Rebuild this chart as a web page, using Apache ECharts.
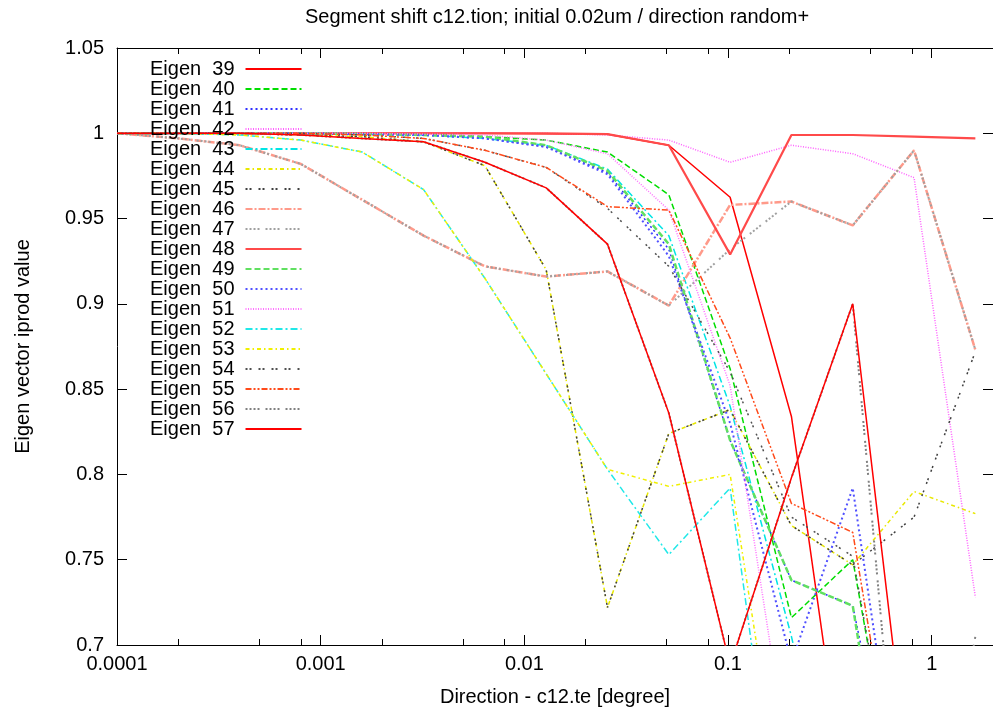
<!DOCTYPE html>
<html>
<head>
<meta charset="utf-8">
<title>Segment shift</title>
<script src="https://cdn.jsdelivr.net/npm/echarts@6/dist/echarts.min.js"></script>
<style>
  html, body { margin: 0; padding: 0; background: #fff; }
  #chart { width: 993px; height: 712px; }
</style>
</head>
<body>
<div id="chart"></div>
<script>
// x = direction [degree], doubled each step
const xValues = [0.0001, 0.0002, 0.0004, 0.0008, 0.0016, 0.0032, 0.0064, 0.0128, 0.0256, 0.0512, 0.1024, 0.2048, 0.4096, 0.8192, 1.6384];

const eigen39 = [1, 1, 1, 1, 1, 1, 1, 0.9998, 0.9995, 0.993, 0.9625, 0.834, 0.58, 0.5, 0.5];
const eigen40 = [1, 1, 1, 1, 1, 0.9995, 0.998, 0.996, 0.989, 0.964, 0.862, 0.716, 0.75, 0.55, 0.5];
const eigen41 = [1, 1, 1, 1, 0.9995, 0.999, 0.997, 0.992, 0.977, 0.932, 0.82, 0.738, 0.723, 0.55, 0.5];
const eigen42 = [1, 1, 1, 1, 1, 1, 1, 1, 0.999, 0.996, 0.983, 0.993, 0.988, 0.974, 0.728];
const eigen43 = [1, 1, 1, 1, 0.9995, 0.999, 0.997, 0.993, 0.979, 0.94, 0.84, 0.705, 0.55, 0.5, 0.5];
const eigen44 = [1, 1, 1, 0.999, 0.998, 0.995, 0.981, 0.92, 0.722, 0.824, 0.838, 0.77, 0.747, 0.79, 0.777];
const eigen45 = [1, 1, 1, 0.999, 0.998, 0.995, 0.981, 0.92, 0.722, 0.824, 0.838, 0.77, 0.747, 0.775, 0.872];
const eigen46 = [1, 0.997, 0.993, 0.982, 0.961, 0.94, 0.922, 0.916, 0.919, 0.899, 0.958, 0.96, 0.946, 0.99, 0.873];
const eigen47 = [1, 0.997, 0.993, 0.982, 0.961, 0.94, 0.922, 0.916, 0.919, 0.899, 0.932, 0.96, 0.946, 0.99, 0.873];
const eigen48 = [1, 1, 1, 1, 1, 1, 1, 1, 0.9995, 0.993, 0.929, 0.999, 0.999, 0.998, 0.997];
const eigen49 = [1, 1, 1, 1, 0.9995, 0.999, 0.998, 0.993, 0.978, 0.935, 0.82, 0.738, 0.723, 0.5, 0.5];
const eigen50 = [1, 1, 1, 1, 0.9995, 0.999, 0.997, 0.992, 0.976, 0.928, 0.83, 0.69, 0.792, 0.55, 0.5];
const eigen51 = [1, 1, 1, 1, 1, 0.9995, 0.999, 0.996, 0.988, 0.955, 0.852, 0.62, 0.5, 0.5, 0.5];
const eigen52 = [1, 1, 0.999, 0.996, 0.989, 0.967, 0.915, 0.859, 0.803, 0.753, 0.792, 0.53, 0.5, 0.5, 0.5];
const eigen53 = [1, 1, 0.999, 0.996, 0.989, 0.967, 0.915, 0.859, 0.803, 0.793, 0.80, 0.57, 0.5, 0.5, 0.5];
const eigen54 = [1, 1, 1, 1, 0.999, 0.997, 0.99, 0.98, 0.956, 0.922, 0.86, 0.775, 0.752, 0.55, 0.5];
const eigen55 = [1, 1, 1, 1, 0.999, 0.997, 0.99, 0.98, 0.957, 0.955, 0.88, 0.783, 0.766, 0.55, 0.5];
const eigen56 = [1, 1, 1, 0.999, 0.997, 0.995, 0.983, 0.968, 0.935, 0.836, 0.688, 0.798, 0.9, 0.5, 0.705];
const eigen57 = [1, 1, 1, 0.999, 0.997, 0.995, 0.983, 0.968, 0.935, 0.836, 0.688, 0.798, 0.9, 0.595, 0.55];

const seriesNames = ['Eigen  39', 'Eigen  40', 'Eigen  41', 'Eigen  42', 'Eigen  43', 'Eigen  44', 'Eigen  45',
    'Eigen  46', 'Eigen  47', 'Eigen  48', 'Eigen  49', 'Eigen  50', 'Eigen  51', 'Eigen  52', 'Eigen  53',
    'Eigen  54', 'Eigen  55', 'Eigen  56', 'Eigen  57'];
const seriesValues = [eigen39, eigen40, eigen41, eigen42, eigen43, eigen44, eigen45, eigen46, eigen47, eigen48,
    eigen49, eigen50, eigen51, eigen52, eigen53, eigen54, eigen55, eigen56, eigen57];

const xTickValues = [0.0001, 0.001, 0.01, 0.1, 1];
const xTickLabels = ['0.0001', '0.001', '0.01', '0.1', '1'];
const xMinorTicks = [0.0002, 0.0005, 0.0008, 0.002, 0.005, 0.008, 0.02, 0.05, 0.08, 0.2, 0.5, 0.8];
const yTickLabels = ['0.7', '0.75', '0.8', '0.85', '0.9', '0.95', '1', '1.05'];

// gnuplot-ish line types
const lineStyles = [
    { color: '#ff0000', width: 1.5, type: 'solid' },
    { color: '#00dd00', width: 1.5, type: [6, 3] },
    { color: '#3030ff', width: 1.5, type: [2, 3] },
    { color: '#ff60ff', width: 1.5, type: [1, 1.5] },
    { color: '#00e5e5', width: 1.5, type: [7, 3, 2, 3] },
    { color: '#e8e800', width: 1.5, type: [4, 3, 1.5, 3] },
    { color: '#404040', width: 1.5, type: [2, 2, 2, 7] },
    { color: '#ff9a8a', width: 2.5, type: [7, 2, 2, 2] },
    { color: '#a0a0a0', width: 2, type: [2, 2, 2, 2, 2, 2, 2, 6] },
    { color: '#ff4a4a', width: 2.2, type: 'solid' },
    { color: '#60e060', width: 2.5, type: [6, 3] },
    { color: '#5050ff', width: 2, type: [2, 3] },
    { color: '#ff70ff', width: 1.5, type: [1, 1.5] },
    { color: '#20e8e8', width: 1.5, type: [7, 3, 2, 3] },
    { color: '#f0f000', width: 1.5, type: [4, 3, 1.5, 3] },
    { color: '#505050', width: 1.5, type: [2, 2, 2, 7] },
    { color: '#ff4a1a', width: 1.5, type: [6, 2, 2, 2, 2, 2] },
    { color: '#808080', width: 2, type: [2, 2, 2, 2, 2, 2, 2, 6] },
    { color: '#ff0000', width: 1.5, type: 'solid' }
];

const font = 'Liberation Sans, Arial, sans-serif';

const series = seriesNames.map((name, i) => ({
    name: name,
    type: 'line',
    symbol: 'none',
    clip: true,
    color: lineStyles[i].color,
    lineStyle: lineStyles[i],
    data: xValues.map((x, k) => [x, seriesValues[i][k]])
}));

function xLabel(v) {
    const i = xTickValues.findIndex(t => Math.abs(Math.log10(t) - Math.log10(v)) < 1e-6);
    return i < 0 ? '' : xTickLabels[i];
}

function xAxisDef(pos, major) {
    return {
        type: 'log', logBase: 10, position: pos, min: 0.0001, max: 2,
        axisLine: { show: major, onZero: false, lineStyle: { color: '#000', width: 1 } },
        axisTick: { show: true, inside: true, length: major ? 10 : 6,
            customValues: major ? xTickValues : xMinorTicks, lineStyle: { color: '#000', width: 1 } },
        axisLabel: { show: major && pos === 'bottom', customValues: xTickValues, formatter: xLabel,
            margin: 9, fontSize: 20, color: '#000', fontFamily: font },
        splitLine: { show: false },
        minorTick: { show: false }
    };
}

const xAxes = [xAxisDef('bottom', true), xAxisDef('bottom', false), xAxisDef('top', true), xAxisDef('top', false)];
xAxes[0].name = 'Direction - c12.te [degree]';
xAxes[0].nameLocation = 'middle';
xAxes[0].nameGap = 42;
xAxes[0].nameTextStyle = { fontSize: 20, color: '#000', fontFamily: font };

function yAxisDef(pos) {
    return {
        type: 'value', position: pos, min: 0.7, max: 1.05, interval: 0.05,
        axisLine: { show: true, lineStyle: { color: '#000', width: 1 } },
        axisTick: { show: true, inside: true, length: 10, lineStyle: { color: '#000' } },
        axisLabel: { show: pos === 'left', margin: 13, fontSize: 20, color: '#000', fontFamily: font,
            formatter: v => yTickLabels[Math.round((v - 0.7) / 0.05)] },
        splitLine: { show: false }
    };
}
const yAxes = [yAxisDef('left'), yAxisDef('right')];
yAxes[0].name = 'Eigen vector iprod value';
yAxes[0].nameLocation = 'middle';
yAxes[0].nameGap = 84;
yAxes[0].nameTextStyle = { fontSize: 20, color: '#000', fontFamily: font };

const chart = echarts.init(document.getElementById('chart'));
chart.setOption({
    animation: false,
    backgroundColor: '#fff',
    title: {
        text: 'Segment shift c12.tion; initial 0.02um / direction random+',
        left: 305, top: 7, padding: 0,
        textStyle: { fontSize: 20, fontWeight: 'normal', color: '#000', fontFamily: font }
    },
    grid: { left: 117, top: 48, width: 880, height: 600, containLabel: false },
    legend: {
        orient: 'vertical', left: 150, top: 59, padding: 0,
        align: 'right', itemWidth: 56, itemHeight: 12, itemGap: 0,
        selectedMode: false,
        itemStyle: { opacity: 0 },
        textStyle: { fontSize: 20, lineHeight: 20, color: '#000', fontFamily: font, padding: [0, 6, 0, 0] },
        data: seriesNames
    },
    xAxis: xAxes,
    yAxis: yAxes,
    series: series
});
</script>
</body>
</html>
